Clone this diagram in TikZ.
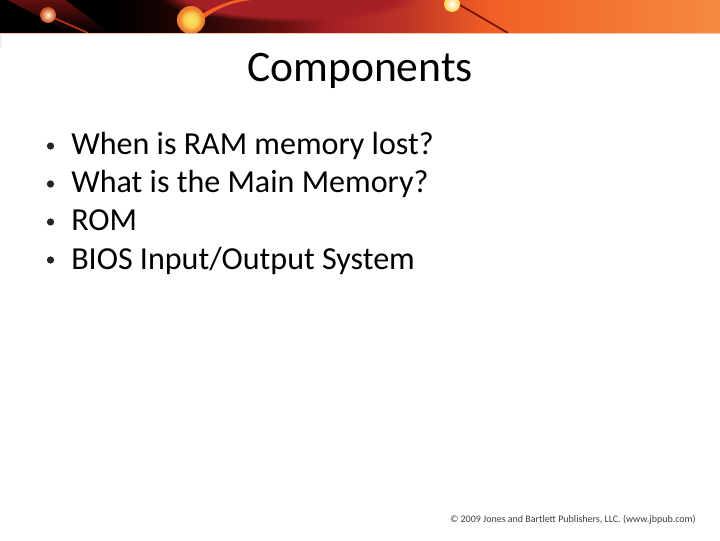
\documentclass[tikz,border=0pt]{standalone}
\usepackage{fontspec}
\setmainfont{Carlito}
\usetikzlibrary{fadings}

\definecolor{bandred}{HTML}{A52026}
\definecolor{banddark}{HTML}{6E1210}
\definecolor{bandorange}{HTML}{F15F25}
\definecolor{bandlight}{HTML}{F58A40}
\definecolor{sparkcore}{HTML}{FBE45C}
\definecolor{sparkmid}{HTML}{FBD052}
\definecolor{sparkedge}{HTML}{EE7E2C}
\pgfdeclarehorizontalshading{bannershade}{100bp}{
  color(0bp)=(black); color(25bp)=(black); color(33bp)=(black); color(40bp)=(banddark!45!black);
  color(45bp)=(banddark); color(48bp)=(bandred); color(53bp)=(bandred!70!bandorange);
  color(59bp)=(bandorange); color(75bp)=(bandlight); color(100bp)=(bandlight)}
\pgfdeclareradialshading{sparkball}{\pgfpoint{0bp}{0bp}}{
  color(0bp)=(sparkcore); color(12bp)=(sparkmid); color(21bp)=(sparkedge); color(25bp)=(sparkedge); color(50bp)=(sparkedge)}

\begin{document}
\begin{tikzpicture}[x=0.025cm,y=-0.025cm,
    heading/.style={inner sep=0pt,font=\fontsize{31}{36}\selectfont},
    entry/.style={anchor=base west,inner sep=0pt,font=\fontsize{22.8}{27}\selectfont},
    dot/.style={circle,fill=black!85,inner sep=0pt,minimum size=5.2pt},
    credit/.style={anchor=base east,inner sep=0pt,text=black!75,font=\fontsize{7.1}{9}\selectfont}]
    \useasboundingbox (0,0) rectangle (720,540);
    \fill[white] (0,0) rectangle (720,540);

    % banner
    \shade[shading=bannershade] (0,0) rectangle (720,33);
    \begin{scope}
        \clip (0,0) rectangle (720,33);
        \fill[banddark,path fading=south] (0,-4) -- (60,-4) -- (110,33) -- (70,33) -- cycle;
        \fill[bandred,path fading=circle with fuzzy edge 20 percent] (290,-4) ellipse (130 and 26);
        \draw[bandred!80!orange,line width=1.2pt] (52,17) -- (88,33);
        \fill[bandorange] (200,22) .. controls (216,8) and (232,1) .. (262,-1) -- (240,-1) .. controls (226,2) and (212,8) .. (198,16) -- cycle;
        \draw[banddark,line width=1.2pt] (460,5) -- (508,33);
        \shade[shading=sparkball] (191,20) circle (14);
        \shade[inner color=sparkcore!30!white,outer color=bandred!60!orange] (48,15) circle (8);
        \shade[inner color=white,outer color=sparkmid] (452,4) circle (8);
    \end{scope}
    \draw[bandlight!50!white,line width=.5pt] (0,33.5) -- (720,33.5);
    \fill[black!6] (0,34) rectangle (2,48);

    % slide text
    \node[heading] (title) at (360,70.5) {Components};

    \node[dot] (b1) at (50.5,146) {};
    \node[dot] (b2) at (50.5,184) {};
    \node[dot] (b3) at (50.5,222) {};
    \node[dot] (b4) at (50.5,260) {};

    \node[entry] (ram) at (71,154.5) {When is RAM memory lost?};
    \node[entry] (main) at (71,192.5) {What is the Main Memory?};
    \node[entry] (rom) at (71,230.5) {ROM};
    \node[entry] (bios) at (71,269.5) {BIOS Input/Output System};

    \node[credit] (copy) at (696,522) {© 2009 Jones and Bartlett Publishers, LLC. (www.jbpub.com)};
\end{tikzpicture}
\end{document}
